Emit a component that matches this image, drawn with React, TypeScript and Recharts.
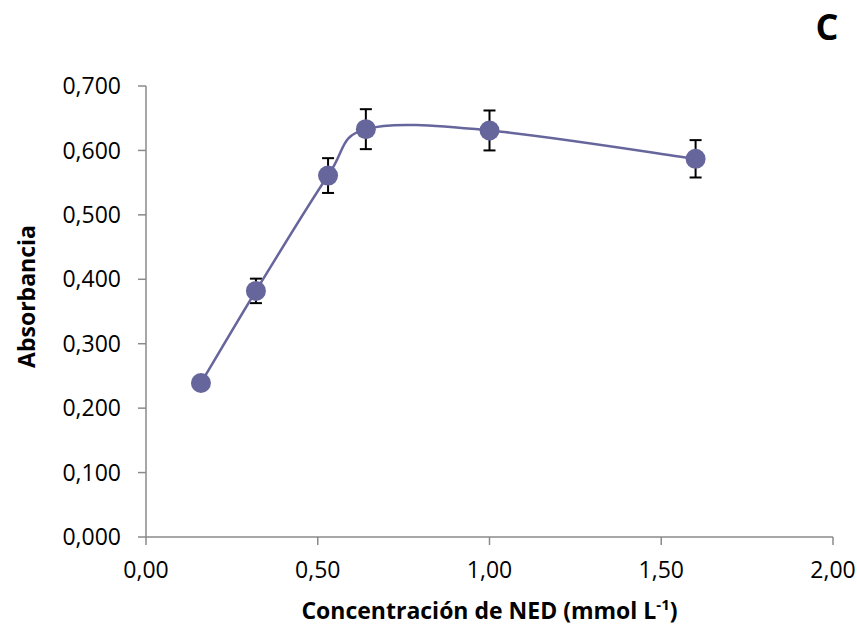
import React from "react";
import { LineChart, Line, XAxis, YAxis, ErrorBar, Label } from "recharts";

const concentrations = [0.16, 0.32, 0.53, 0.64, 1.0, 1.6];
const absorbances = [0.239, 0.382, 0.561, 0.633, 0.631, 0.587];
const errors = [0.005, 0.019, 0.027, 0.031, 0.031, 0.029];
const xTicks = [0, 0.5, 1.0, 1.5, 2.0];
const yTicks = [0, 0.1, 0.2, 0.3, 0.4, 0.5, 0.6, 0.7];

const data = concentrations.map((x, i) => ({ x, y: absorbances[i], err: errors[i] }));

const SERIES = "#66669d";
const AXIS = "#8a8a8a";
const FONT = "'Open Sans', 'Noto Sans', sans-serif";

// Catmull-Rom style smoothing similar to Excel's "smoothed line"
function smoothCurve(context: any) {
  let pts: [number, number][] = [];
  const k = 1 / 6;
  return {
    areaStart() {},
    areaEnd() {},
    lineStart() {
      pts = [];
    },
    point(x: number, y: number) {
      pts.push([+x, +y]);
    },
    lineEnd() {
      const n = pts.length;
      if (n === 0) return;
      context.moveTo(pts[0][0], pts[0][1]);
      if (n === 1) return;
      for (let i = 0; i < n - 1; i++) {
        const p0 = pts[Math.max(i - 1, 0)];
        const p1 = pts[i];
        const p2 = pts[i + 1];
        const p3 = pts[Math.min(i + 2, n - 1)];
        const c1x = p1[0] + (p2[0] - p0[0]) * k;
        const c1y = p1[1] + (p2[1] - p0[1]) * k;
        const c2x = p2[0] - (p3[0] - p1[0]) * k;
        const c2y = p2[1] - (p3[1] - p1[1]) * k;
        context.bezierCurveTo(c1x, c1y, c2x, c2y, p2[0], p2[1]);
      }
    },
  };
}

const fmt = (d: number) => (v: number) => v.toFixed(d).replace(".", ",");

const XTitle = (props: any) => {
  const vb = props.viewBox || { x: 0, y: 0, width: 0, height: 0 };
  return (
    <text
      x={vb.x + vb.width / 2}
      y={vb.y + 82}
      textAnchor="middle"
      fontFamily={FONT}
      fontWeight="bold"
      fontSize={23}
      fill="#000"
    >
      Concentración de NED (mmol L
      <tspan dy={-9} fontSize={15}>-1</tspan>
      <tspan dy={9}>)</tspan>
    </text>
  );
};

const YTitle = (props: any) => {
  const vb = props.viewBox || { x: 0, y: 0, width: 0, height: 0 };
  const cx = 26;
  const cy = vb.y + vb.height / 2 - 15;
  return (
    <text
      x={cx}
      y={cy}
      transform={`rotate(-90, ${cx}, ${cy})`}
      textAnchor="middle"
      dominantBaseline="central"
      fontFamily={FONT}
      fontWeight="bold"
      fontSize={23}
      fill="#000"
    >
      Absorbancia
    </text>
  );
};

export default function App() {
  return (
    <div style={{ position: "absolute", left: 0, top: 0, width: 857, height: 625, background: "#fff" }}>
      <LineChart
        width={857}
        height={625}
        data={data}
        margin={{ top: 86, right: 24, bottom: 0, left: 46 }}
      >
        <XAxis
          type="number"
          dataKey="x"
          domain={[0, 2]}
          ticks={xTicks}
          tickFormatter={fmt(2)}
          height={88}
          stroke={AXIS}
          strokeWidth={1.5}
          tickSize={8}
          tickMargin={17}
          tick={{ fill: "#000", fontSize: 23, fontFamily: FONT }}
          interval={0}
        >
          <Label content={<XTitle />} />
        </XAxis>
        <YAxis
          type="number"
          domain={[0, 0.7]}
          ticks={yTicks}
          tickFormatter={fmt(3)}
          width={100}
          stroke={AXIS}
          strokeWidth={1.5}
          tickSize={8}
          tickMargin={17}
          tick={{ fill: "#000", fontSize: 23, fontFamily: FONT }}
          interval={0}
        >
          <Label content={<YTitle />} />
        </YAxis>
        <Line
          dataKey="y"
          type={smoothCurve as any}
          stroke={SERIES}
          strokeWidth={2.5}
          dot={{ r: 10, fill: SERIES, stroke: SERIES, strokeWidth: 0 }}
          activeDot={false}
          isAnimationActive={false}
        >
          <ErrorBar dataKey="err" width={6} stroke="#000" strokeWidth={2} direction="y" />
        </Line>
      </LineChart>
      <svg
        width={857}
        height={625}
        style={{ position: "absolute", left: 0, top: 0, pointerEvents: "none" }}
      >
        <text
          x={827}
          y={40}
          textAnchor="middle"
          fontFamily={FONT}
          fontWeight="bold"
          fontSize={36}
          fill="#000"
        >
          C
        </text>
      </svg>
    </div>
  );
}
